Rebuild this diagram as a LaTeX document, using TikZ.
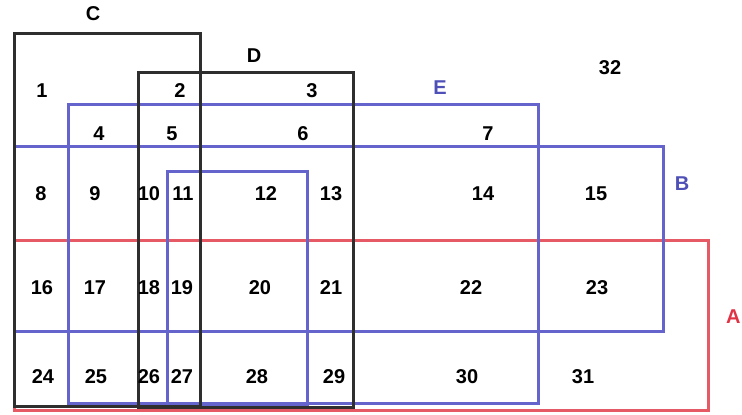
\documentclass[tikz,border=0pt]{standalone}
\usepackage{fontspec}
\setmainfont{Liberation Sans}
\definecolor{setblue}{HTML}{6464CC}
\definecolor{setred}{HTML}{E65A66}
\definecolor{setblack}{HTML}{2E2E2E}
\definecolor{labelblue}{HTML}{4F4FB8}
\definecolor{labelred}{HTML}{E03345}
\tikzset{
  region/.style={font=\fontsize{20}{21}\selectfont\bfseries, inner sep=0pt},
  setname/.style={region},
  blackset/.style={draw=setblack, line width=3pt},
  blueset/.style={draw=setblue, line width=3pt},
  redset/.style={draw=setred, line width=3pt},
}
\begin{document}
\begin{tikzpicture}[x=1pt, y=-1pt]
    \useasboundingbox (0,0) rectangle (742,415);
    % sets
    \draw[redset] (14,240) rectangle (708,410);
    \draw[blueset] (14,146) rectangle (663,331);
    \draw[blueset] (68,104) rectangle (538,403);
    \draw[blueset] (167,171) rectangle (307,405);
    \draw[blackset] (14,33) rectangle (200,406);
    \draw[blackset] (138,72) rectangle (353,407);
    % set names
    \node[setname] (nameC) at (93,14) {C};
    \node[setname] (nameD) at (254,56) {D};
    \node[setname, labelblue] (nameE) at (440,88) {E};
    \node[setname, labelblue] (nameB) at (682,184) {B};
    \node[setname, labelred, anchor=west] (nameA) at (726,317) {A};
    % regions
    \node[region] (r1) at (42,91) {1};
    \node[region] (r2) at (180,91) {2};
    \node[region] (r3) at (312,91) {3};
    \node[region] (r4) at (99,134) {4};
    \node[region] (r5) at (172,134) {5};
    \node[region] (r6) at (303,134) {6};
    \node[region] (r7) at (488,134) {7};
    \node[region] (r8) at (41,194) {8};
    \node[region] (r9) at (95,194) {9};
    \node[region] (r10) at (149,194) {10};
    \node[region] (r11) at (183,194) {11};
    \node[region] (r12) at (266,194) {12};
    \node[region] (r13) at (331,194) {13};
    \node[region] (r14) at (483,194) {14};
    \node[region] (r15) at (596,194) {15};
    \node[region] (r16) at (42,288) {16};
    \node[region] (r17) at (95,288) {17};
    \node[region] (r18) at (149,288) {18};
    \node[region] (r19) at (182,288) {19};
    \node[region] (r20) at (260,288) {20};
    \node[region] (r21) at (331,288) {21};
    \node[region] (r22) at (471,288) {22};
    \node[region] (r23) at (597,288) {23};
    \node[region] (r24) at (43,377) {24};
    \node[region] (r25) at (96,377) {25};
    \node[region] (r26) at (149,377) {26};
    \node[region] (r27) at (182,377) {27};
    \node[region] (r28) at (257,377) {28};
    \node[region] (r29) at (334,377) {29};
    \node[region] (r30) at (467,377) {30};
    \node[region] (r31) at (583,377) {31};
    \node[region] (r32) at (610,68) {32};
\end{tikzpicture}
\end{document}
